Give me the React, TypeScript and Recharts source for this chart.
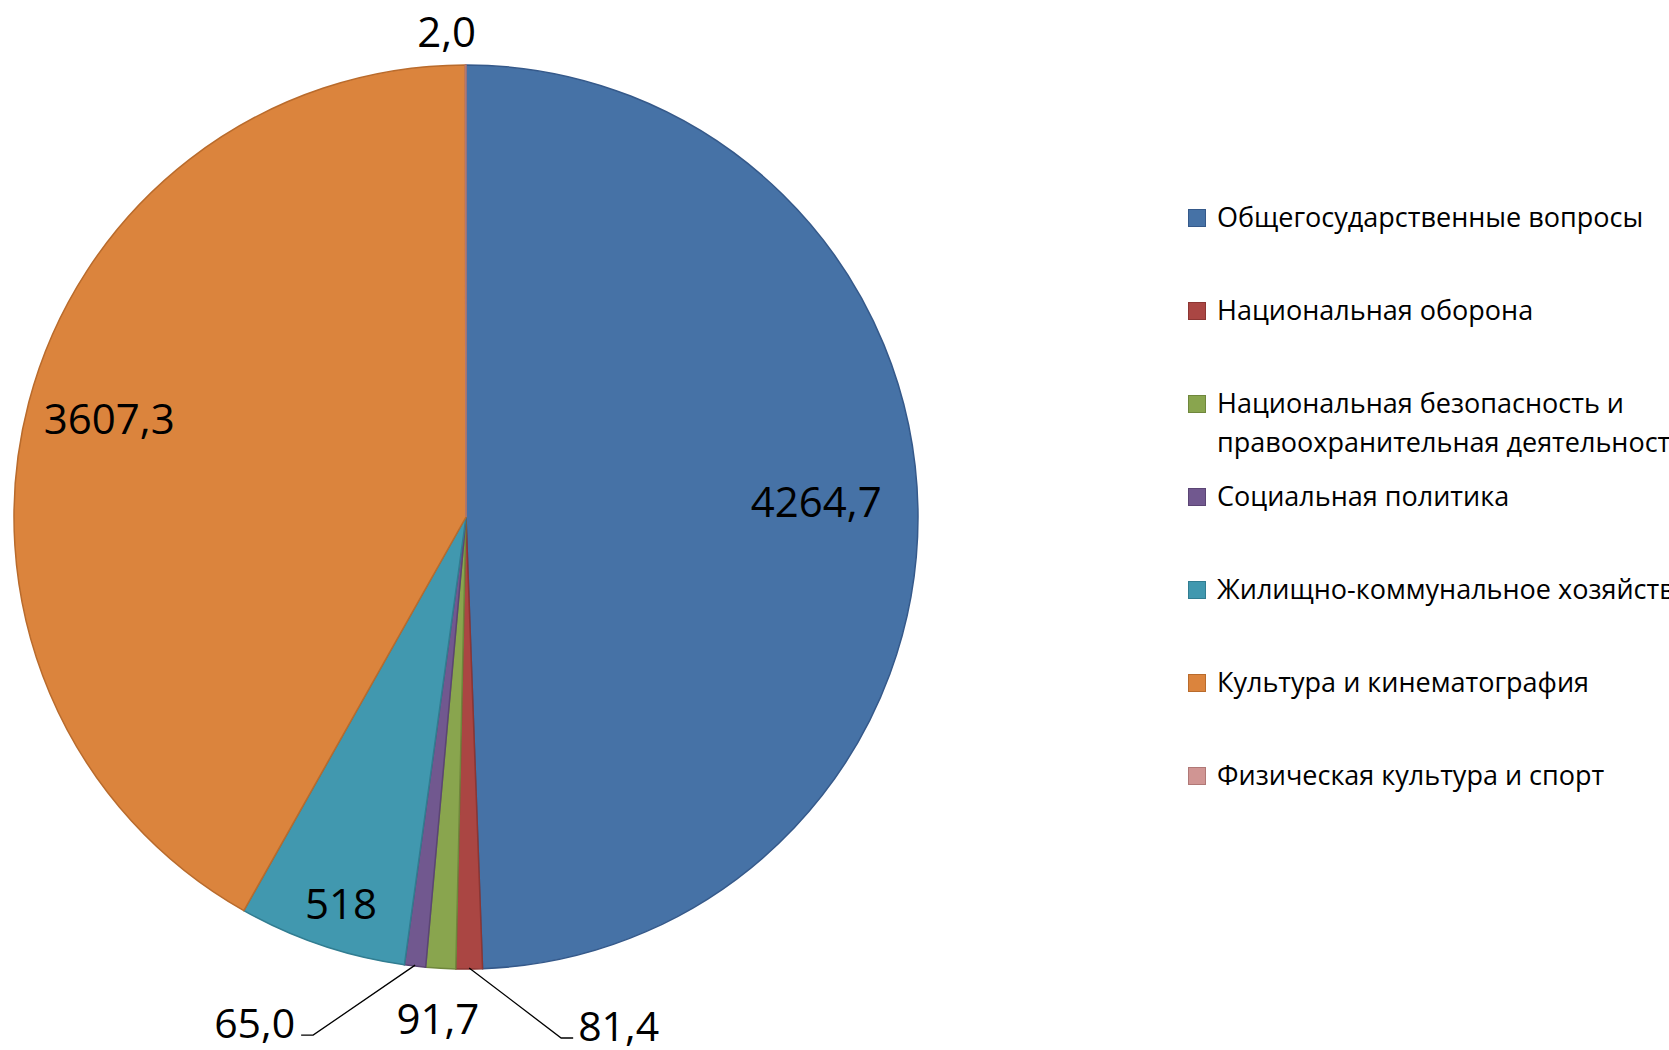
import React from "react";
import { PieChart, Pie, Cell, Legend } from "recharts";

const categories = [
  "Общегосударственные вопросы",
  "Национальная оборона",
  "Национальная безопасность и правоохранительная деятельность",
  "Социальная политика",
  "Жилищно-коммунальное хозяйство",
  "Культура и кинематография",
  "Физическая культура и спорт",
];
const legendLines = [
  ["Общегосударственные вопросы"],
  ["Национальная оборона"],
  ["Национальная безопасность и", "правоохранительная деятельность"],
  ["Социальная политика"],
  ["Жилищно-коммунальное хозяйство"],
  ["Культура и кинематография"],
  ["Физическая культура и спорт"],
];
const values = [4264.7, 81.4, 91.7, 65.0, 518, 3607.3, 2.0];
const valueLabels = ["4264,7", "81,4", "91,7", "65,0", "518", "3607,3", "2,0"];

const fills = ["#4672A6", "#AA4643", "#89A54E", "#71588F", "#4198AF", "#DB843D", "#D09593"];
const strokes = ["#35598A", "#8C3633", "#6F873C", "#5B4574", "#317D91", "#B96B2C", "#B07876"];

// where each value label sits, relative to its slice
const placement: any[] = [
  { type: "inside", r: 0.775, dx: 0, dy: -10 },
  { type: "leader", ex: 92, ey: 70, hx: 12 },
  { type: "outside", r: 1.11, dx: 0, dy: 0 },
  { type: "leader", ex: -102, ey: 70, hx: -12 },
  { type: "inside", r: 0.9, dx: 5, dy: 0 },
  { type: "inside", r: 0.816, dx: 0, dy: -6 },
  { type: "outside", r: 1.077, dx: -19, dy: 0 },
];

const data = categories.map((name, i) => ({ name, value: values[i] }));
const RAD = Math.PI / 180;
const FONT = "'Open Sans', sans-serif";

const renderLabel = (props: any) => {
  const { cx, cy, midAngle, outerRadius, index } = props;
  const p = placement[index];
  const text = valueLabels[index];
  const cos = Math.cos(-midAngle * RAD);
  const sin = Math.sin(-midAngle * RAD);
  if (p.type === "leader") {
    const sx = cx + (outerRadius - 1) * cos;
    const sy = cy + (outerRadius - 1) * sin;
    const ex = sx + p.ex;
    const ey = sy + p.ey;
    const hx = ex + p.hx;
    const right = p.hx > 0;
    return (
      <g key={`lbl-${index}`}>
        <path d={`M${sx},${sy} L${ex},${ey} L${hx},${ey}`} stroke="#000" strokeWidth={1.3} fill="none" />
        <text
          x={right ? hx + 5 : hx - 6}
          y={ey - 13}
          textAnchor={right ? "start" : "end"}
          dominantBaseline="central"
          fontFamily={FONT}
          fontSize={41}
          fill="#000"
        >
          {text}
        </text>
      </g>
    );
  }
  const r = outerRadius * p.r;
  const x = cx + r * cos + (p.dx || 0);
  const y = cy + r * sin + (p.dy || 0);
  return (
    <text
      key={`lbl-${index}`}
      x={x}
      y={y}
      textAnchor="middle"
      dominantBaseline="central"
      fontFamily={FONT}
      fontSize={42}
      fill="#000"
    >
      {text}
    </text>
  );
};

const renderLegend = () => (
  <div style={{ fontFamily: FONT, fontSize: 27, color: "#000", whiteSpace: "nowrap" }}>
    {legendLines.map((lines, i) => (
      <div key={i} style={{ position: "relative", height: 93 }}>
        <div
          style={{
            position: "absolute",
            left: 0,
            top: -9,
            width: 16,
            height: 16,
            background: fills[i],
            border: `1.5px solid ${strokes[i]}`,
          }}
        />
        {lines.map((ln, j) => (
          <div key={j} style={{ position: "absolute", left: 29, top: -20 + j * 39, lineHeight: "38px" }}>
            {ln}
          </div>
        ))}
      </div>
    ))}
  </div>
);

export default function App() {
  return (
    <div
      style={{
        position: "absolute",
        left: 0,
        top: 0,
        width: 1669,
        height: 1050,
        overflow: "hidden",
        background: "#fff",
      }}
    >
      <PieChart width={1669} height={1050} margin={{ top: 0, right: 0, bottom: 0, left: 0 }}>
        <Pie
          data={data}
          dataKey="value"
          nameKey="name"
          cx={466}
          cy={517}
          outerRadius={452}
          startAngle={90}
          endAngle={-270}
          label={renderLabel}
          labelLine={false}
          isAnimationActive={false}
        >
          {data.map((d, i) => (
            <Cell key={`cell-${i}`} fill={fills[i]} stroke={strokes[i]} strokeWidth={1.5} />
          ))}
        </Pie>
        <Legend
          content={renderLegend}
          wrapperStyle={{ position: "absolute", left: 1188, top: 218, width: 500, height: 700 }}
        />
      </PieChart>
    </div>
  );
}
